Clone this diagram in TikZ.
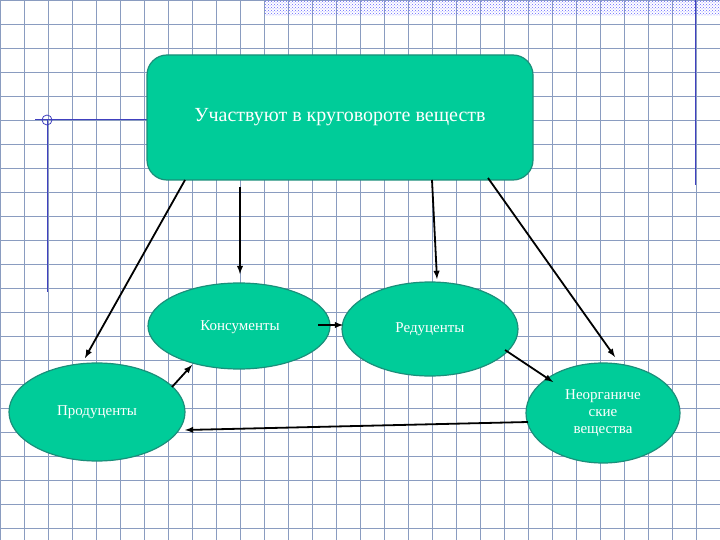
\documentclass[tikz,border=0pt]{standalone}
\usepackage{fontspec}
\setmainfont{Liberation Serif}
\usetikzlibrary{patterns,shapes.geometric}
\definecolor{tealf}{HTML}{00CC99}
\definecolor{teald}{HTML}{1A8F7A}
\definecolor{gridc}{HTML}{8A9CC0}
\begin{document}
\begin{tikzpicture}[x=1pt,y=-1pt,
  ell/.style={ellipse,draw=teald,line width=1.2pt,fill=tealf,text=white,font=\fontsize{15}{17}\selectfont,align=center,inner sep=0pt},
  arr/.style={-latex,line width=1.8pt,black}]
\useasboundingbox (0,0) rectangle (720,540);
\fill[white] (0,0) rectangle (720,540);
\foreach \i in {0,...,30} {\draw[gridc,line width=0.7pt] (0.7+24*\i,0) -- (0.7+24*\i,540);}
\foreach \j in {0,...,22} {\draw[gridc,line width=0.7pt] (0,0.7+24*\j) -- (720,0.7+24*\j);}
\fill[pattern=crosshatch dots,pattern color=blue!60] (265,0) rectangle (720,16);
\draw[blue!50!gray,line width=1pt] (695,0) -- (695,185);
\draw[blue!50!gray,line width=1pt] (35,120) -- (147,120);
\draw[blue!50!gray,line width=1pt] (47,120) -- (47,292);
\draw[blue!50!gray,line width=0.8pt] (47,120) circle (5);
\node[draw=teald,line width=1.2pt,fill=tealf,rounded corners=20pt,minimum width=386pt,minimum height=125pt,text=white,font=\fontsize{20}{24}\selectfont] (top) at (340,117.5) {Участвуют в круговороте веществ};
\node[ell,minimum width=182pt,minimum height=86pt] (kons) at (239,326) {};
\node[text=white,font=\fontsize{15}{17}\selectfont] (konst) at (240,327) {Консументы};
\node[ell,minimum width=176pt,minimum height=94pt] (red) at (430,329) {Редуценты};
\node[ell,minimum width=176pt,minimum height=98pt] (prod) at (97,412) {Продуценты};
\node[ell,minimum width=154pt,minimum height=100pt] (neo) at (603,413) {Неорганиче\\ские\\вещества};
\coordinate (a1) at (185,180); \coordinate (b1) at (85,358);
\coordinate (a2) at (240,187); \coordinate (b2) at (240,274);
\coordinate (a3) at (432,180); \coordinate (b3) at (437,279);
\coordinate (a4) at (488,178); \coordinate (b4) at (615,357);
\draw[arr] (a1) -- (b1);
\draw[arr] (a2) -- (b2);
\draw[arr] (a3) -- (b3);
\draw[arr] (a4) -- (b4);
\draw[arr] (318,325) -- (343,325);
\draw[arr] (505,350) -- (553,382);
\draw[arr] (528,422) -- (185,430);
\draw[arr] (172,387) -- (192,365);
\end{tikzpicture}
\end{document}
